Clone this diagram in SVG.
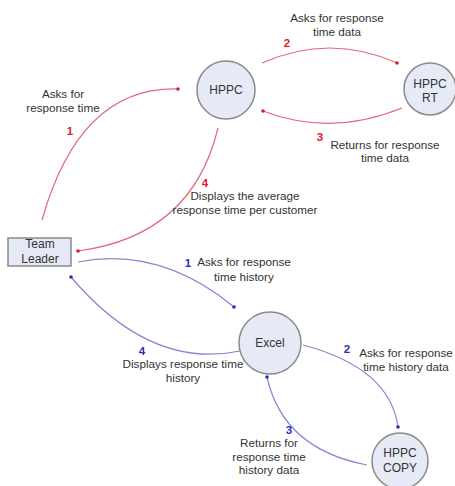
<svg xmlns="http://www.w3.org/2000/svg" width="455" height="486" viewBox="0 0 455 486">
  <style>
    .node { fill: #e6eaf6; stroke: #8a8a8a; stroke-width: 1.5; }
    .lbl { font-family: "Liberation Sans", Arial, sans-serif; font-size: 11.7px; fill: #333; text-anchor: middle; }
    .nlbl { font-family: "Liberation Sans", Arial, sans-serif; font-size: 12px; fill: #333; text-anchor: middle; }
    .red { fill: none; stroke: #e2687a; stroke-width: 1.2; }
    .blue { fill: none; stroke: #8686d2; stroke-width: 1.2; }
    .numr { font-family: "Liberation Sans", Arial, sans-serif; font-size: 11.5px; font-weight: bold; fill: #e0202a; text-anchor: middle; }
    .numb { font-family: "Liberation Sans", Arial, sans-serif; font-size: 11.5px; font-weight: bold; fill: #2a2ac0; text-anchor: middle; }
  </style>
  <defs>
    <marker id="dotR" viewBox="0 0 4 4" refX="2" refY="2" markerWidth="4" markerHeight="4" markerUnits="userSpaceOnUse">
      <circle cx="2" cy="2" r="1.8" fill="#d0202a"/>
    </marker>
    <marker id="dotB" viewBox="0 0 4 4" refX="2" refY="2" markerWidth="4" markerHeight="4" markerUnits="userSpaceOnUse">
      <circle cx="2" cy="2" r="1.8" fill="#2a2ac0"/>
    </marker>
  </defs>

  <rect width="455" height="486" fill="#ffffff"/>

  <!-- data flows -->
  <g id="connectors">
    <path class="red" d="M42,220 Q80,86 178,89" marker-end="url(#dotR)"/>
    <path class="red" d="M262,63 Q330,33 397,63" marker-end="url(#dotR)"/>
    <path class="red" d="M402,108 Q331,137 263,111" marker-end="url(#dotR)"/>
    <path class="red" d="M218,128 Q192,236 78,251" marker-end="url(#dotR)"/>
    <path class="blue" d="M78,262 Q160,246 234,307" marker-end="url(#dotB)"/>
    <path class="blue" d="M303,345 Q390,368 398,427" marker-end="url(#dotB)"/>
    <path class="blue" d="M367,465 Q283,449 267,377" marker-end="url(#dotB)"/>
    <path class="blue" d="M240,351 Q150,370 71,277" marker-end="url(#dotB)"/>
  </g>

  <!-- flow labels -->
  <g id="flow-labels">
    <text class="numr" x="70" y="135">1</text>
    <text class="lbl" x="63" y="98">Asks for</text>
    <text class="lbl" x="63" y="112">response time</text>

    <text class="numr" x="287" y="47">2</text>
    <text class="lbl" x="337" y="22">Asks for response</text>
    <text class="lbl" x="337" y="36">time data</text>

    <text class="numr" x="320" y="141">3</text>
    <text class="lbl" x="385" y="149">Returns for response</text>
    <text class="lbl" x="385" y="162">time data</text>

    <text class="numr" x="205" y="187">4</text>
    <text class="lbl" x="245" y="200">Displays the average</text>
    <text class="lbl" x="245" y="214">response time per customer</text>

    <text class="numb" x="188" y="267">1</text>
    <text class="lbl" x="244" y="266">Asks for response</text>
    <text class="lbl" x="244" y="281">time history</text>

    <text class="numb" x="347" y="353">2</text>
    <text class="lbl" x="406" y="357">Asks for response</text>
    <text class="lbl" x="406" y="371">time history data</text>

    <text class="numb" x="289" y="434">3</text>
    <text class="lbl" x="269" y="447">Returns for</text>
    <text class="lbl" x="269" y="461">response time</text>
    <text class="lbl" x="269" y="474">history data</text>

    <text class="numb" x="142" y="355">4</text>
    <text class="lbl" x="183" y="368">Displays response time</text>
    <text class="lbl" x="183" y="382">history</text>
  </g>

  <!-- nodes -->
  <g id="team-leader">
    <rect class="node" x="8" y="238" width="63" height="28"/>
    <text class="nlbl" x="40" y="248">Team</text>
    <text class="nlbl" x="40" y="263">Leader</text>
  </g>
  <g id="hppc">
    <circle class="node" cx="226" cy="90" r="29"/>
    <text class="nlbl" x="226" y="94">HPPC</text>
  </g>
  <g id="hppc-rt">
    <circle class="node" cx="430" cy="89" r="26"/>
    <text class="nlbl" x="430" y="88">HPPC</text>
    <text class="nlbl" x="430" y="102">RT</text>
  </g>
  <g id="excel">
    <circle class="node" cx="270" cy="343" r="31"/>
    <text class="nlbl" x="270" y="347">Excel</text>
  </g>
  <g id="hppc-copy">
    <circle class="node" cx="400" cy="461" r="28"/>
    <text class="nlbl" x="400" y="457">HPPC</text>
    <text class="nlbl" x="400" y="472">COPY</text>
  </g>
</svg>
